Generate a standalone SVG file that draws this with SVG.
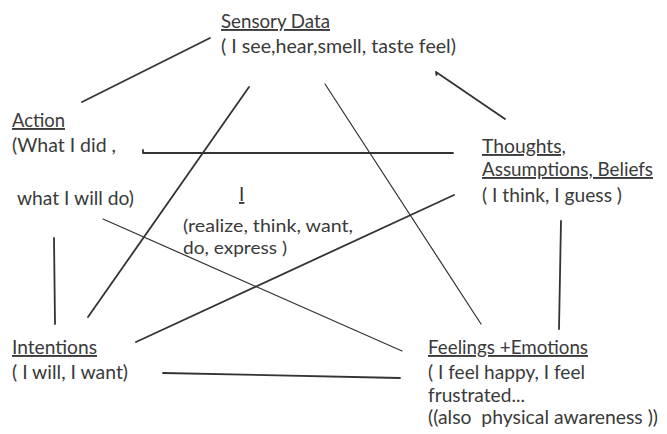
<svg xmlns="http://www.w3.org/2000/svg" width="667" height="434" viewBox="0 0 667 434">
<style>
text{font-family:Lato,"Open Sans","Liberation Sans",sans-serif;font-size:19px;fill:#3a3a3a}
.s{font-size:18px}
.u{text-decoration:underline}
.c{fill:none;stroke:#333;stroke-width:1.8;stroke-linecap:round;stroke-linejoin:round}
.t{stroke-width:1.2}
</style>
<rect width="667" height="434" fill="#fff"/>
<g id="connectors">
<path class="c" d="M82,102 L210,38"/>
<path class="c" d="M436.5,75 L436,72 L505,119"/>
<path class="c" d="M143,150 L143,153 L453,153"/>
<path class="c" d="M249,87 L88,317"/>
<path class="c t" d="M325,84 L481,324"/>
<path class="c t" d="M103,219 L402,351"/>
<path class="c" d="M136,342 L454,195"/>
<path class="c" d="M54,238 L55,324"/>
<path class="c" d="M561,221 L559,329"/>
<path class="c" d="M163,373 L400,378"/>
</g>
<g id="sensory">
<text x="221" y="28" class="u" textLength="109" lengthAdjust="spacingAndGlyphs">Sensory Data</text>
<text x="221" y="53" textLength="235" lengthAdjust="spacingAndGlyphs">( I see,hear,smell, taste feel)</text>
</g>
<g id="action">
<text x="12" y="127" class="u" textLength="53" lengthAdjust="spacingAndGlyphs">Action</text>
<text x="12" y="152" textLength="104" lengthAdjust="spacingAndGlyphs">(What I did ,</text>
<text x="17" y="205" textLength="117" lengthAdjust="spacingAndGlyphs">what I will do)</text>
</g>
<g id="self">
<text x="239" y="201" class="u">I</text>
<text x="183" y="232" class="s" textLength="170" lengthAdjust="spacingAndGlyphs">(realize, think, want,</text>
<text x="183" y="254" class="s" textLength="104" lengthAdjust="spacingAndGlyphs">do, express )</text>
</g>
<g id="thoughts">
<text x="482" y="153" class="u" textLength="84" lengthAdjust="spacingAndGlyphs">Thoughts,</text>
<text x="482" y="176" class="u" textLength="171" lengthAdjust="spacingAndGlyphs">Assumptions, Beliefs</text>
<text x="482" y="202" textLength="140" lengthAdjust="spacingAndGlyphs">( I think, I guess )</text>
</g>
<g id="intentions">
<text x="12" y="354" class="u" textLength="85" lengthAdjust="spacingAndGlyphs">Intentions</text>
<text x="12" y="379" textLength="116" lengthAdjust="spacingAndGlyphs">( I will, I want)</text>
</g>
<g id="feelings">
<text x="428" y="354" class="u" textLength="160" lengthAdjust="spacingAndGlyphs">Feelings +Emotions</text>
<text x="428" y="379" textLength="157" lengthAdjust="spacingAndGlyphs">( I feel happy, I feel</text>
<text x="428" y="402" textLength="97" lengthAdjust="spacingAndGlyphs">frustrated...</text>
<text x="428" y="424" xml:space="preserve" textLength="230" lengthAdjust="spacingAndGlyphs">((also  physical awareness ))</text>
</g>
</svg>
